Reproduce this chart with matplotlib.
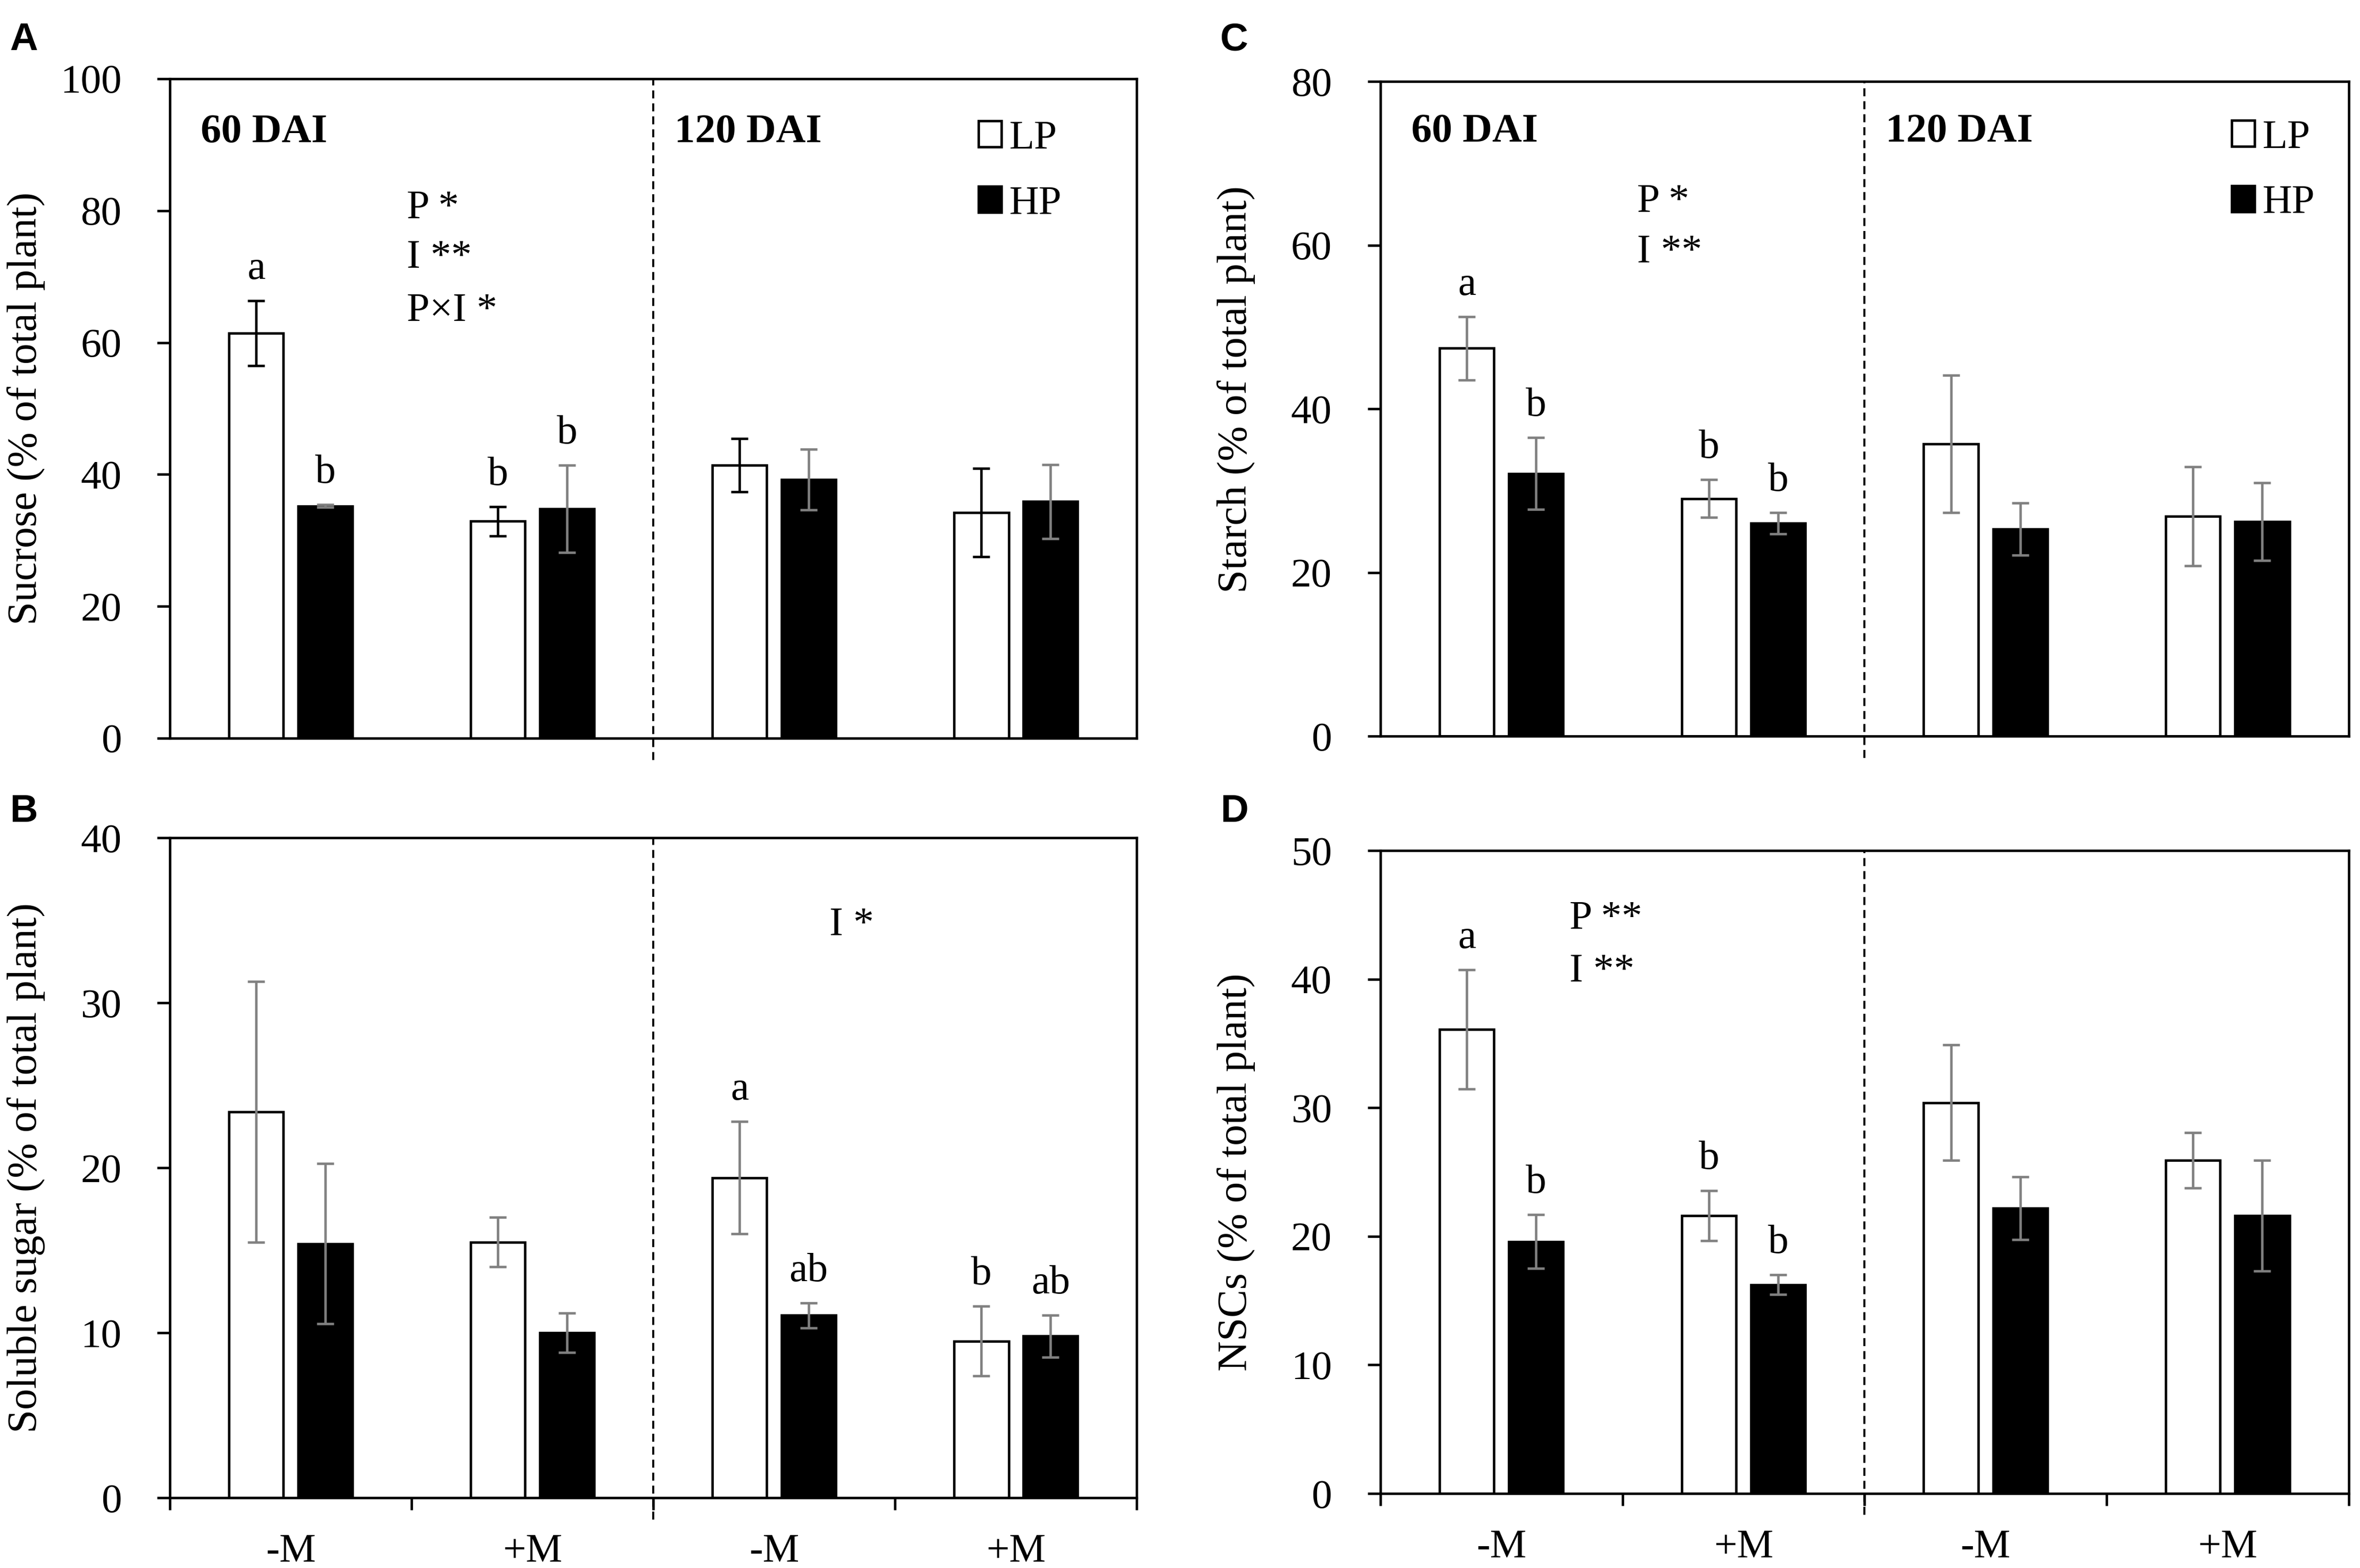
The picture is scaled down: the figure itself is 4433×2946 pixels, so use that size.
import matplotlib.pyplot as plt
from matplotlib.patches import Patch

plt.rcParams['font.family'] = ['Liberation Serif', 'DejaVu Serif']

# ------------------------
# data
# ------------------------
groups = ['-M', '+M', '-M', '+M']

# A  sucrose
sucrose_lp = [61.4, 32.9, 41.4, 34.2]
sucrose_lp_se = [4.9, 2.2, 4.0, 6.7]
sucrose_hp = [35.2, 34.8, 39.2, 35.9]
sucrose_hp_se = [0.2, 6.6, 4.6, 5.6]
sucrose_lp_letters = ['a', 'b', '', '']
sucrose_hp_letters = ['b', 'b', '', '']

# B  soluble sugar
sugar_lp = [23.4, 15.5, 19.4, 9.5]
sugar_lp_se = [7.9, 1.5, 3.4, 2.1]
sugar_hp = [15.4, 10.0, 11.05, 9.8]
sugar_hp_se = [4.85, 1.2, 0.77, 1.27]
sugar_lp_letters = ['', '', 'a', 'b']
sugar_hp_letters = ['', '', 'ab', 'ab']

# C  starch
starch_lp = [47.4, 29.05, 35.7, 26.9]
starch_lp_se = [3.85, 2.3, 8.4, 6.05]
starch_hp = [32.1, 26.0, 25.3, 26.2]
starch_hp_se = [4.4, 1.3, 3.2, 4.75]
starch_lp_letters = ['a', 'b', '', '']
starch_hp_letters = ['b', 'b', '', '']

# D  NSCs
nsc_lp = [36.1, 21.6, 30.4, 25.9]
nsc_lp_se = [4.65, 1.95, 4.5, 2.15]
nsc_hp = [19.6, 16.25, 22.2, 21.6]
nsc_hp_se = [2.1, 0.77, 2.45, 4.3]
nsc_lp_letters = ['a', 'b', '', '']
nsc_hp_letters = ['b', 'b', '', '']

FS = 18.5
GREY = '#808080'


def draw_panel(ax, lp, lp_se, hp, hp_se, lp_let, hp_let, ymax, ystep,
               ylabel, lp_ecolor, show_x, ylab_y=0.5):
    x = [i + 0.5 for i in range(len(lp))]
    x_lp = [v - 0.143 for v in x]
    x_hp = [v + 0.143 for v in x]
    w = 0.225

    ax.bar(x_lp, lp, width=w, color='white', edgecolor='black', linewidth=1.1, zorder=2)
    ax.bar(x_hp, hp, width=w, color='black', edgecolor='black', linewidth=1.1, zorder=2)
    ax.errorbar(x_lp, lp, yerr=lp_se, fmt='none', ecolor=lp_ecolor,
                elinewidth=1.1, capsize=3.8, capthick=1.1, zorder=3)
    ax.errorbar(x_hp, hp, yerr=hp_se, fmt='none', ecolor=GREY,
                elinewidth=1.1, capsize=3.8, capthick=1.1, zorder=3)

    # significance letters above the error bars
    for xs, vals, ses, lets in ((x_lp, lp, lp_se, lp_let), (x_hp, hp, hp_se, hp_let)):
        for xi, v, s, t in zip(xs, vals, ses, lets):
            if t:
                ax.annotate(t, (xi, v + s), xytext=(0, 6), textcoords='offset points',
                            ha='center', va='bottom', fontsize=FS)

    # 60 / 120 DAI separator
    ax.axvline(2, ymin=-0.033, ymax=1, color='black', lw=0.9,
               linestyle=(0, (4, 2.5)), clip_on=False, zorder=1)

    ax.set_xlim(0, 4)
    ax.set_ylim(0, ymax)
    ax.set_yticks(range(0, ymax + 1, ystep))
    ax.tick_params(axis='y', direction='out', length=5.8, width=1.1, pad=16, labelsize=FS)
    if show_x:
        ax.set_xticks([0, 1, 2, 3, 4])
        ax.set_xticklabels([])
        ax.set_xticks(x, minor=True)
        ax.set_xticklabels(groups, minor=True, fontsize=FS)
        ax.tick_params(axis='x', which='major', direction='out', length=5.5, width=1.1)
        ax.tick_params(axis='x', which='minor', length=0, pad=16)
    else:
        ax.set_xticks([])
    for sp in ax.spines.values():
        sp.set_linewidth(1.1)

    ax.set_ylabel(ylabel, fontsize=19, va='center')
    ax.yaxis.set_label_coords(-0.149, ylab_y)


def add_legend(ax, x0, y0):
    handles = [Patch(facecolor='white', edgecolor='black', linewidth=1.1, label='LP'),
               Patch(facecolor='black', edgecolor='black', linewidth=1.1, label='HP')]
    ax.legend(handles=handles, loc='upper left', bbox_to_anchor=(x0, y0),
              frameon=False, fontsize=FS, handlelength=0.56, handleheight=0.6,
              handletextpad=0.2, labelspacing=0.7, borderpad=0, borderaxespad=0)


# ------------------------
# MAIN
# ------------------------
fig = plt.figure(figsize=(4433 / 300, 2946 / 300), dpi=300)

ax_a = fig.add_axes([0.0720, 0.5292, 0.4097, 0.4206])
ax_b = fig.add_axes([0.0720, 0.0448, 0.4097, 0.4209])
ax_c = fig.add_axes([0.5849, 0.5305, 0.4103, 0.4175])
ax_d = fig.add_axes([0.5849, 0.0475, 0.4103, 0.4100])

draw_panel(ax_a, sucrose_lp, sucrose_lp_se, sucrose_hp, sucrose_hp_se,
           sucrose_lp_letters, sucrose_hp_letters, 100, 20,
           'Sucrose (% of total plant)', 'black', False)
draw_panel(ax_b, sugar_lp, sugar_lp_se, sugar_hp, sugar_hp_se,
           sugar_lp_letters, sugar_hp_letters, 40, 10,
           'Soluble sugar (% of total plant)', GREY, True)
draw_panel(ax_c, starch_lp, starch_lp_se, starch_hp, starch_hp_se,
           starch_lp_letters, starch_hp_letters, 80, 20,
           'Starch (% of total plant)', GREY, False, ylab_y=0.53)
draw_panel(ax_d, nsc_lp, nsc_lp_se, nsc_hp, nsc_hp_se,
           nsc_lp_letters, nsc_hp_letters, 50, 10,
           'NSCs (% of total plant)', GREY, True)

# time labels
for ax, y in ((ax_a, 0.919), (ax_c, 0.923)):
    ax.text(0.032, y, '60 DAI', transform=ax.transAxes, fontsize=FS,
            fontweight='bold', va='center', ha='left')
    ax.text(0.522, y, '120 DAI', transform=ax.transAxes, fontsize=FS,
            fontweight='bold', va='center', ha='left')

add_legend(ax_a, 0.836, 0.937)
add_legend(ax_c, 0.879, 0.942)

# ANOVA results
stats_text = [
    (ax_a, 0.245, [0.803, 0.728, 0.648], ['P *', 'I **', 'P×I *']),
    (ax_b, 0.682, [0.867], ['I *']),
    (ax_c, 0.265, [0.816, 0.739], ['P *', 'I **']),
    (ax_d, 0.195, [0.894, 0.812], ['P **', 'I **']),
]
for ax, xs, ys, labels in stats_text:
    for y, t in zip(ys, labels):
        ax.text(xs, y, t, transform=ax.transAxes, fontsize=FS, va='center', ha='left')

# panel letters
for lab, xx, yy in (('A', 0.004, 0.986), ('B', 0.004, 0.494),
                    ('C', 0.517, 0.986), ('D', 0.517, 0.494)):
    fig.text(xx, yy, lab, fontsize=17.5, fontweight='bold', family='Liberation Sans',
             ha='left', va='top')

fig.savefig('out.png', dpi=300)
